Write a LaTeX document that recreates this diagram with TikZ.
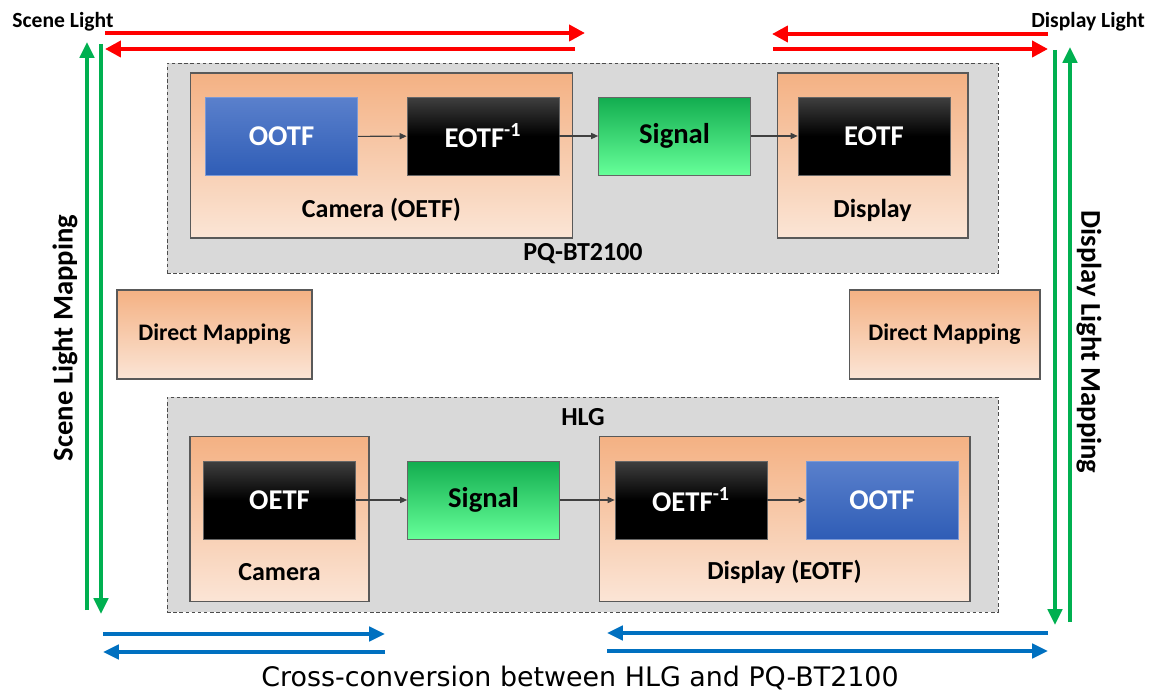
\documentclass[tikz,border=0pt]{standalone}
\usepackage{fontspec}
\setmainfont{Carlito}
\newfontfamily\capfont{DejaVu Sans}
\usetikzlibrary{arrows.meta}

\definecolor{orTop}{HTML}{F4B183}
\definecolor{orBot}{HTML}{FBE5D6}
\definecolor{blTop}{HTML}{5A80CC}
\definecolor{blBot}{HTML}{2F5DB6}
\definecolor{grTop}{HTML}{12AD4F}
\definecolor{grBot}{HTML}{66FF99}
\definecolor{frameGray}{HTML}{D9D9D9}
\definecolor{redArr}{HTML}{FF0000}
\definecolor{greenArr}{HTML}{00B050}
\definecolor{blueArr}{HTML}{0070C0}

\begin{document}
\begin{tikzpicture}[x=0.02cm,y=-0.02cm,
   frame/.style={draw=black!70,dashed,dash pattern=on 2pt off 1.5pt,line width=0.4pt,fill=frameGray,minimum width=16.62cm},
   stage/.style={draw=black!65,line width=0.6pt,top color=orTop,bottom color=orBot,minimum height=3.3cm},
   blk/.style={minimum width=3.04cm,minimum height=1.56cm,text=white,font=\bfseries\fontsize{16.3}{19}\selectfont},
   blackblk/.style={blk,draw=black!60,top color=black!75,bottom color=black,middle color=black},
   blueblk/.style={blk,draw=blTop!80,top color=blTop,bottom color=blBot},
   greenblk/.style={blk,draw=black!60,text=black,top color=grTop,bottom color=grBot},
   lbl/.style={font=\bfseries\fontsize{14.8}{17}\selectfont},
   flow/.style={-{Triangle[length=4pt,width=3.5pt]},draw=black!75,line width=0.6pt},
   redarr/.style={-{Triangle[length=9pt,width=9pt]},draw=redArr,line width=2.8pt},
   greenarr/.style={-{Triangle[length=9pt,width=8pt]},draw=greenArr,line width=2.3pt},
   bluearr/.style={-{Triangle[length=9pt,width=8pt]},draw=blueArr,line width=2.3pt}]
\useasboundingbox (0,0) rectangle (1149,692);

   % PQ-BT2100 chain
   \node[frame,minimum height=4.2cm] (pq) at (582.5,168) {};
   \node[stage,minimum width=7.66cm] (cam1) at (381.5,155.5) {};
   \node[stage,minimum width=3.82cm] (disp1) at (872.5,155.5) {};

   \node[blueblk] (ootf1) at (281.5,136.5) {OOTF};
   \node[blackblk] (eotfinv) at (483,136) {EOTF\textsuperscript{-1}};
   \node[greenblk] (sig1) at (674.5,136) {Signal};
   \node[blackblk] (eotf) at (874,136) {EOTF};

   \node[lbl] (cam1l) at (381.5,210) {Camera (OETF)};
   \node[lbl] (disp1l) at (872.5,210) {Display};
   \node[lbl] (pql) at (583,254) {PQ-BT2100};

   \draw[flow] (ootf1) -- (eotfinv);
   \draw[flow] (eotfinv) -- (sig1);
   \draw[flow] (sig1) -- (eotf);

   % direct mappings
   \node[draw=black!65,line width=0.6pt,top color=orTop,bottom color=orBot,minimum width=3.9cm,minimum height=1.78cm,font=\bfseries\fontsize{13.5}{16}\selectfont] (dm1) at (214.5,334.5) {Direct Mapping};
   \node[draw=black!65,line width=0.6pt,top color=orTop,bottom color=orBot,minimum width=3.82cm,minimum height=1.78cm,font=\bfseries\fontsize{13.5}{16}\selectfont] (dm2) at (944.5,334.5) {Direct Mapping};

   % HLG chain
   \node[frame,minimum height=4.3cm] (hlg) at (582.5,504.5) {};
   \node[stage,minimum width=3.58cm] (cam2) at (279.5,519) {};
   \node[stage,minimum width=7.42cm] (disp2) at (784.5,519) {};

   \node[blackblk] (oetf) at (279.5,500) {OETF};
   \node[greenblk] (sig2) at (483.5,500) {Signal};
   \node[blackblk] (oetfinv) at (691,500) {OETF\textsuperscript{-1}};
   \node[blueblk] (ootf2) at (882,500) {OOTF};

   \node[lbl] (hlgl) at (583,417) {HLG};
   \node[lbl] (cam2l) at (279.5,572) {Camera};
   \node[lbl] (disp2l) at (784.5,572) {Display (EOTF)};

   \draw[flow] (oetf) -- (sig2);
   \draw[flow] (sig2) -- (oetfinv);
   \draw[flow] (oetfinv) -- (ootf2);

   % light domains
   \node[font=\bfseries\fontsize{12.3}{14}\selectfont] (scene) at (63,22) {Scene Light};
   \node[font=\bfseries\fontsize{12.3}{14}\selectfont] (disp) at (1088,22) {Display Light};
   \node[font=\bfseries\fontsize{16.3}{19}\selectfont,rotate=90] (slm) at (65,338) {Scene Light Mapping};
   \node[font=\bfseries\fontsize{16.3}{19}\selectfont,rotate=-90] (dlm) at (1089,342) {Display Light Mapping};
   \node[font=\capfont\fontsize{15.3}{18}\selectfont] (cap) at (580,678) {Cross-conversion between HLG and PQ-BT2100};

   \coordinate (rA) at (105,33);  \coordinate (rB) at (585,33);
   \coordinate (rC) at (575,49);  \coordinate (rD) at (105,49);
   \coordinate (rE) at (1048,34); \coordinate (rF) at (772,34);
   \coordinate (rG) at (773,49);  \coordinate (rH) at (1048,49);
   \draw[redarr] (rA) -- (rB);
   \draw[redarr] (rC) -- (rD);
   \draw[redarr] (rE) -- (rF);
   \draw[redarr] (rG) -- (rH);

   \coordinate (gA) at (87,610);   \coordinate (gB) at (87,42);
   \coordinate (gC) at (101,44);   \coordinate (gD) at (101,614);
   \coordinate (gE) at (1055,50);  \coordinate (gF) at (1055,625);
   \coordinate (gG) at (1070,622); \coordinate (gH) at (1070,47);
   \draw[greenarr] (gA) -- (gB);
   \draw[greenarr] (gC) -- (gD);
   \draw[greenarr] (gE) -- (gF);
   \draw[greenarr] (gG) -- (gH);

   \coordinate (bA) at (103,634);  \coordinate (bB) at (385,634);
   \coordinate (bC) at (385,652);  \coordinate (bD) at (103,652);
   \coordinate (bE) at (1048,633); \coordinate (bF) at (607,633);
   \coordinate (bG) at (607,651);  \coordinate (bH) at (1048,651);
   \draw[bluearr] (bA) -- (bB);
   \draw[bluearr] (bC) -- (bD);
   \draw[bluearr] (bE) -- (bF);
   \draw[bluearr] (bG) -- (bH);

\end{tikzpicture}
\end{document}
